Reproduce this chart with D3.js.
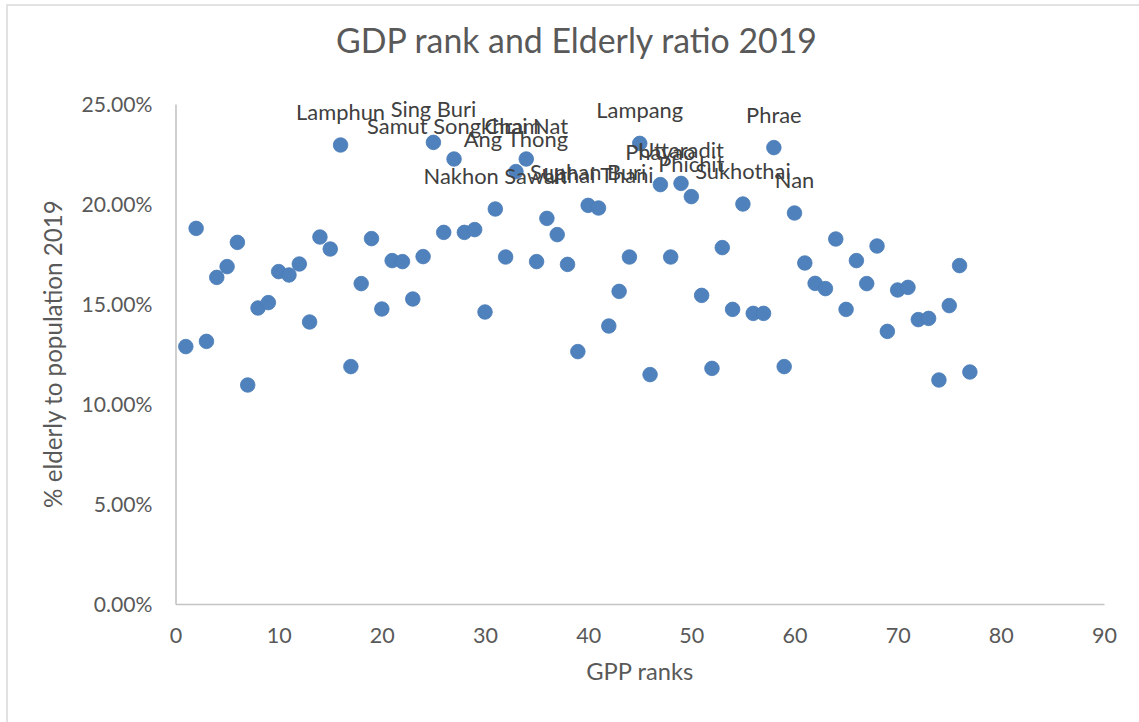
<!DOCTYPE html>
<html>
<head>
<meta charset="utf-8">
<script src="https://cdn.jsdelivr.net/npm/d3@7"></script>
<style>
  html, body { margin: 0; padding: 0; background: #fff; }
  svg { display: block; }
  text { font-family: Lato, "Open Sans", sans-serif; }
</style>
</head>
<body>
<svg id="chart" width="1139" height="722"></svg>
<script>
// ---- data ----
const gppRanks = [1,2,3,4,5,6,7,8,9,10,11,12,13,14,15,16,17,18,19,20,
  21,22,23,24,25,26,27,28,29,30,31,32,33,34,35,36,37,38,39,40,
  41,42,43,44,45,46,47,48,49,50,51,52,53,54,55,56,57,58,59,60,
  61,62,63,64,65,66,67,68,69,70,71,72,73,74,75,76,77];
const elderlyRatio = [0.1287,0.1878,0.1313,0.1633,0.1687,0.1808,0.1095,0.1480,0.1507,0.1662,
  0.1645,0.1700,0.1410,0.1835,0.1775,0.2295,0.1187,0.1602,0.1827,0.1475,
  0.1717,0.1712,0.1525,0.1737,0.2308,0.1858,0.2225,0.1858,0.1872,0.1460,
  0.1975,0.1735,0.2162,0.2225,0.1712,0.1928,0.1847,0.1698,0.1262,0.1993,
  0.1980,0.1390,0.1563,0.1735,0.2303,0.1147,0.2097,0.1735,0.2103,0.2037,
  0.1543,0.1178,0.1782,0.1473,0.2000,0.1453,0.1453,0.2282,0.1187,0.1955,
  0.1705,0.1603,0.1577,0.1825,0.1473,0.1717,0.1602,0.1790,0.1363,0.1570,
  0.1583,0.1422,0.1428,0.1120,0.1492,0.1692,0.1160];
const provinceLabels = ["","","","","","","","","","",
  "","","","","","Lamphun","","","","",
  "","","","","Sing Buri","","Samut Songkhram","","","",
  "Nakhon Sawan","","Ang Thong","Chai Nat","","","","","","Suphan Buri",
  "Uthai Thani","","","","Lampang","","Phayao","","Uttaradit","Phichit",
  "","","","","Sukhothai","","","Phrae","","Nan",
  "","","","","","","","","","",
  "","","","","","",""];
const xTicks = [0,10,20,30,40,50,60,70,80,90];
const yTicks = [0,0.05,0.10,0.15,0.20,0.25];
const chartTitle = "GDP rank and Elderly ratio 2019";
const xTitle = "GPP ranks";
const yTitle = "% elderly to population 2019";

// ---- layout ----
const W = 1139, H = 722;
const plot = { left: 175.5, right: 1104, top: 104, bottom: 604 };
const svg = d3.select("#chart");

svg.append("rect").attr("x", 0).attr("y", 0).attr("width", W).attr("height", H).attr("fill", "#fff");
// outer chart border (right/bottom fall outside the picture)
svg.append("rect").attr("x", 7).attr("y", 5).attr("width", 1160).attr("height", 740)
  .attr("fill", "none").attr("stroke", "#d9d9d9").attr("stroke-width", 1.5);

const x = d3.scaleLinear().domain([0, 90]).range([plot.left, plot.right]);
const y = d3.scaleLinear().domain([0, 0.25]).range([plot.bottom, plot.top]);

function fitSize(sel, target) {
  const w = sel.node().getComputedTextLength();
  const fs = parseFloat(sel.style("font-size"));
  return fs * target / w;
}

// axes
const xAxis = d3.axisBottom(x).tickValues(xTicks).tickFormat(d3.format("d")).tickSize(0).tickPadding(0);
const yAxis = d3.axisLeft(y).tickValues(yTicks).tickFormat(d3.format(".2%")).tickSize(0).tickPadding(0);

const gx = svg.append("g").attr("transform", `translate(0,${plot.bottom})`).call(xAxis);
const gy = svg.append("g").attr("transform", `translate(${plot.left},0)`).call(yAxis);

[gx, gy].forEach(g => {
  g.select(".domain").attr("stroke", "#c4c4c4").attr("stroke-width", 1.6);
  g.selectAll("text").attr("fill", "#595959").style("font-size", "20px");
});

// size tick labels to match reference widths
const refY = gy.selectAll(".tick text").filter(d => d === 0.25);
const ySize = fitSize(refY, 71);
gy.selectAll(".tick text").style("font-size", ySize + "px")
  .attr("x", -23).attr("dy", "0.35em").attr("text-anchor", "end");
const refX = gx.selectAll(".tick text").filter(d => d === 80);
const xSize = fitSize(refX, 25);
gx.selectAll(".tick text").style("font-size", xSize + "px")
  .attr("y", 0).attr("dy", 39).attr("text-anchor", "middle");

// title
const t = svg.append("text").text(chartTitle).attr("x", 576.5).attr("y", 53)
  .attr("text-anchor", "middle").attr("fill", "#595959").style("font-size", "28px");
t.style("font-size", fitSize(t, 481) + "px");

// axis titles
const xt = svg.append("text").text(xTitle).attr("x", (plot.left + plot.right) / 2).attr("y", 680)
  .attr("text-anchor", "middle").attr("fill", "#595959").style("font-size", "20px");
xt.style("font-size", fitSize(xt, 107) + "px");
const yt = svg.append("text").text(yTitle)
  .attr("transform", `translate(62,${(plot.top + plot.bottom) / 2}) rotate(-90)`)
  .attr("text-anchor", "middle").attr("fill", "#595959").style("font-size", "20px");
yt.style("font-size", fitSize(yt, 308) + "px");

// points
const data = gppRanks.map((r, i) => ({ rank: r, ratio: elderlyRatio[i], label: provinceLabels[i] }));
svg.append("g").selectAll("circle").data(data).join("circle")
  .attr("cx", d => x(d.rank)).attr("cy", d => y(d.ratio)).attr("r", 7.3)
  .attr("fill", "#4f81bd").attr("stroke", "#4a7cb8").attr("stroke-width", 0.8);

// data labels (above)
const lg = svg.append("g");
const labelled = data.filter(d => d.label !== "");
const lbl = lg.selectAll("text").data(labelled).join("text")
  .text(d => d.label)
  .attr("x", d => x(d.rank)).attr("y", d => y(d.ratio) - 25)
  .attr("text-anchor", "middle").attr("fill", "#404040").style("font-size", "20px");
const refL = lbl.filter(d => d.label === "Lamphun");
const lSize = fitSize(refL, 89);
lbl.style("font-size", lSize + "px");
</script>
</body>
</html>
